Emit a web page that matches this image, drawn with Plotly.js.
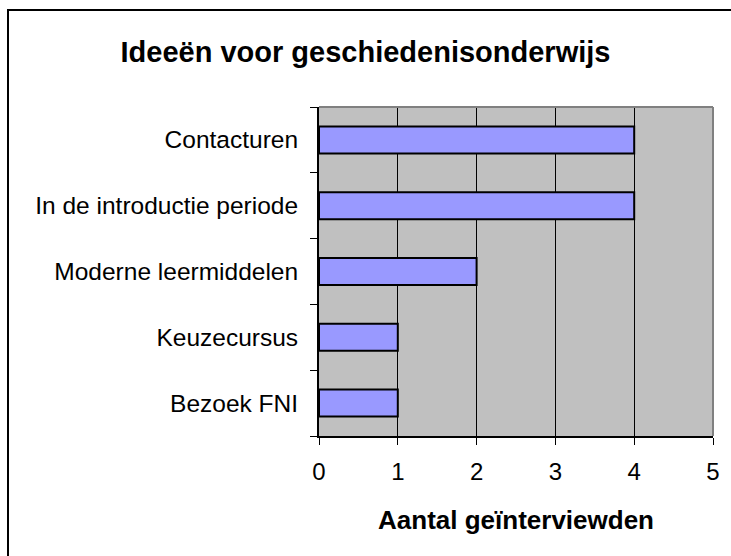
<!DOCTYPE html>
<html><head><meta charset="utf-8">
<script src="https://cdn.plot.ly/plotly-3.0.1.min.js"></script>
<style>
html,body{margin:0;padding:0;background:#fff;}
#wrap{position:relative;width:731px;height:556px;overflow:hidden;}
#chart{width:731px;height:556px;}
#frame{position:absolute;left:7px;top:9px;width:740px;height:560px;border-left:2px solid #000;border-top:2px solid #000;pointer-events:none;}
</style></head>
<body>
<div id="wrap"><div id="chart"></div><div id="frame"></div></div>
<script>
const categories = ["Bezoek FNI", "Keuzecursus", "Moderne leermiddelen", "In de introductie periode", "Contacturen"];
const values = [1, 1, 2, 4, 4];
const xTicks = [0, 1, 2, 3, 4, 5];

const trace = {
  type: "bar", orientation: "h",
  y: categories, x: values,
  marker: {color: "#9999FF", line: {color: "#000000", width: 2}},
  hoverinfo: "skip"
};
const font = "Liberation Sans, Arial, sans-serif";
const layout = {
  width: 731, height: 556,
  paper_bgcolor: "#ffffff", plot_bgcolor: "#C0C0C0",
  margin: {l: 319, r: 18, t: 107, b: 120},
  showlegend: false,
  bargap: 0.59,
  title: {text: "<b>Ideeën voor geschiedenisonderwijs</b>", font: {family: font, size: 29, color: "#000"}, x: 0.5, xref: "container", xanchor: "center", y: 0.906, yref: "container", yanchor: "middle"},
  xaxis: {
    range: [0, 5], tickvals: xTicks, ticktext: xTicks.map(String),
    showgrid: true, gridcolor: "#000000", gridwidth: 1,
    zeroline: false, showline: true, linecolor: "#000", linewidth: 2,
    ticks: "outside", ticklen: 7, tickcolor: "#000", tickwidth: 1,
    ticklabelstandoff: 6,
    tickfont: {family: font, size: 24, color: "#000"},
    title: {text: "<b>Aantal geïnterviewden</b>", font: {family: font, size: 26, color: "#000"}, standoff: 27},
    fixedrange: true
  },
  yaxis: {
    type: "category", categoryorder: "array", categoryarray: categories,
    showgrid: false, zeroline: false, showline: true, linecolor: "#000", linewidth: 2,
    ticks: "outside", ticklen: 7, tickcolor: "#000", tickwidth: 1, tickson: "boundaries",
    ticklabelstandoff: 14,
    tickfont: {family: font, size: 24.5, color: "#000"},
    fixedrange: true
  },
  shapes: [
    {type: "line", xref: "paper", yref: "paper", x0: 0, x1: 1, y0: 1, y1: 1, line: {color: "#808080", width: 2}},
    {type: "line", xref: "paper", yref: "paper", x0: 1, x1: 1, y0: 0, y1: 1, line: {color: "#808080", width: 2}}
  ]
};
Plotly.newPlot("chart", [trace], layout, {displayModeBar: false, staticPlot: true});
</script>
</body></html>
